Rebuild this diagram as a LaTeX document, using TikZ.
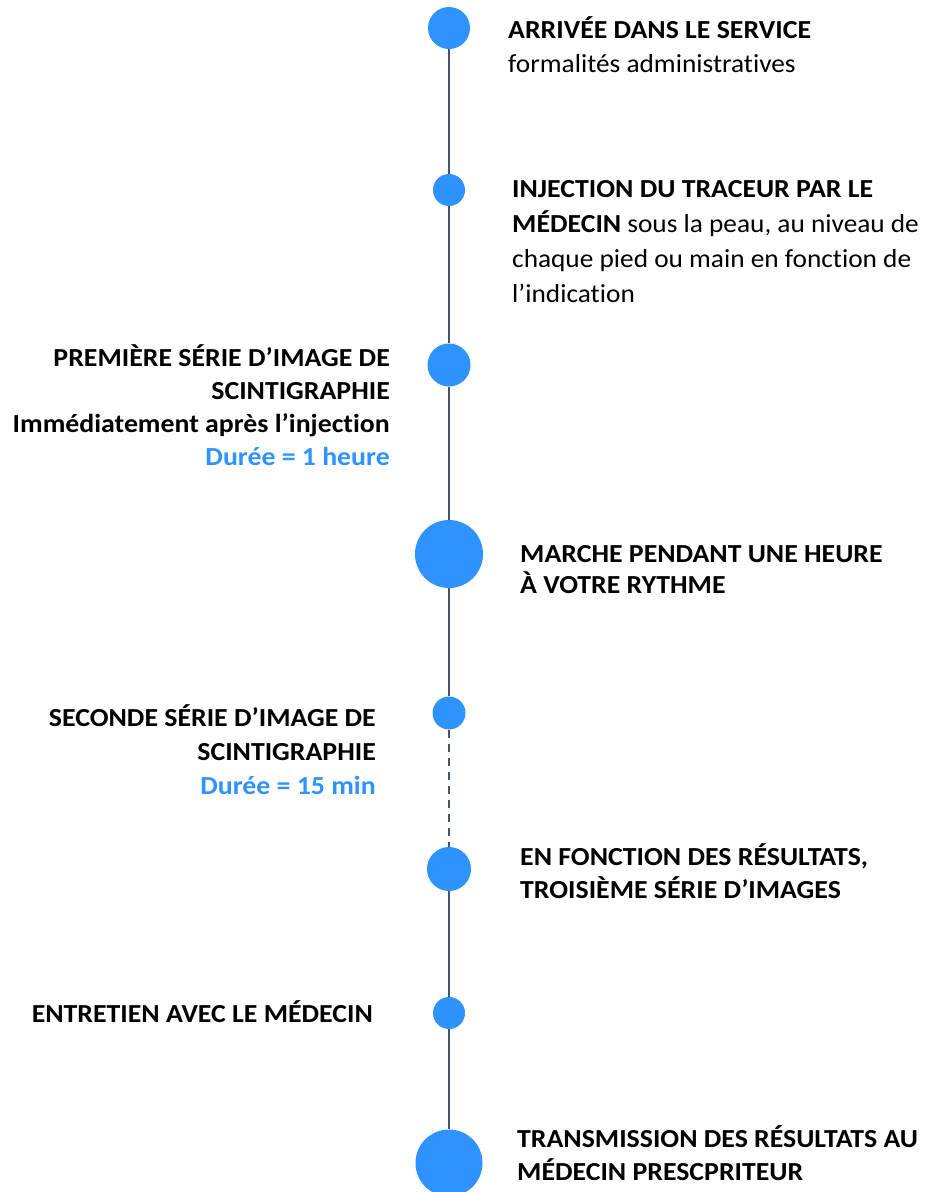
\documentclass[tikz,border=0pt]{standalone}
\usepackage{fontspec}
\setmainfont{Carlito}[Ligatures=NoCommon,FakeStretch=1.05,BoldFeatures={FakeStretch=1.07}]
\usepackage{xcolor}
\definecolor{dotblue}{HTML}{2E92FF}
\definecolor{lineslate}{HTML}{44546A}

\begin{document}
\begin{tikzpicture}[x=1pt,y=-1pt,
	dot/.style={circle,fill=dotblue,inner sep=0pt},
	txt/.style={font=\fontsize{26}{34}\selectfont,inner sep=0pt}]
			\def\lx{449};
			\useasboundingbox (0,0) rectangle (942,1192);
			
			% dots on the line
			\node[dot,minimum size=42pt] (arrivee) at (\lx,28) {};
			\node[dot,minimum size=32pt] (injection) at (\lx,190) {};
			\node[dot,minimum size=43pt] (serie1) at (\lx,365) {};
			\node[dot,minimum size=68pt] (marche) at (\lx,554) {};
			\node[dot,minimum size=33pt] (serie2) at (\lx,713) {};
			\node[dot,minimum size=44pt] (serie3) at (\lx,869) {};
			\node[dot,minimum size=32pt] (entretien) at (\lx,1013) {};
			\node[dot,minimum size=67pt] (transmission) at (\lx,1163) {};
			
			\draw[lineslate,line width=2pt] (arrivee) -- (injection);
			\draw[lineslate,line width=2pt] (injection) -- (serie1);
			\draw[lineslate,line width=2pt] (serie1) -- (marche);
			\draw[lineslate,line width=2pt] (marche) -- (serie2);
			\draw[lineslate,line width=2pt,dash pattern=on 8pt off 6pt] (serie2) -- (serie3);
			\draw[lineslate,line width=2pt] (serie3) -- (entretien);
			\draw[lineslate,line width=2pt] (entretien) -- (transmission);
			
			% texts on the right (anchored at the last line)
			\node[txt,anchor=base west,align=left] (tarrivee) at (508,72)
				{\textbf{ARRIVÉE DANS LE SERVICE}\\formalités administratives};
			\node[txt,anchor=base west,align=left,font=\fontsize{26}{35}\selectfont] (tinjection) at (512,302)
				{\textbf{INJECTION DU TRACEUR PAR LE}\\\textbf{MÉDECIN} sous la peau, au niveau de\\chaque pied ou main en fonction de\\l’indication};
			\node[txt,anchor=base west,align=left,font=\fontsize{26}{31}\bfseries] (tmarche) at (520,593)
				{MARCHE PENDANT UNE HEURE\\À VOTRE RYTHME};
			\node[txt,anchor=base west,align=left,font=\fontsize{26}{33}\bfseries] (tserie3) at (520,898)
				{EN FONCTION DES RÉSULTATS,\\TROISIÈME SÉRIE D’IMAGES};
			\node[txt,anchor=base west,align=left,font=\fontsize{26}{33}\bfseries] (ttransmission) at (517,1180)
				{TRANSMISSION DES RÉSULTATS AU\\MÉDECIN PRESCPRITEUR};
			
			% texts on the left
			\node[txt,anchor=base east,align=right,font=\fontsize{26}{33}\bfseries] (tserie1) at (390,465)
				{PREMIÈRE SÉRIE D’IMAGE DE\\SCINTIGRAPHIE\\Immédiatement après l’injection\\\textcolor{dotblue}{Durée = 1 heure}};
			\node[txt,anchor=base east,align=right,font=\fontsize{26}{34}\bfseries] (tserie2) at (376,794)
				{SECONDE SÉRIE D’IMAGE DE\\SCINTIGRAPHIE\\\textcolor{dotblue}{Durée = 15 min}};
			\node[txt,anchor=base east,font=\fontsize{26}{34}\bfseries] (tentretien) at (373,1022)
				{ENTRETIEN AVEC LE MÉDECIN};
			\end{tikzpicture}
\end{document}
